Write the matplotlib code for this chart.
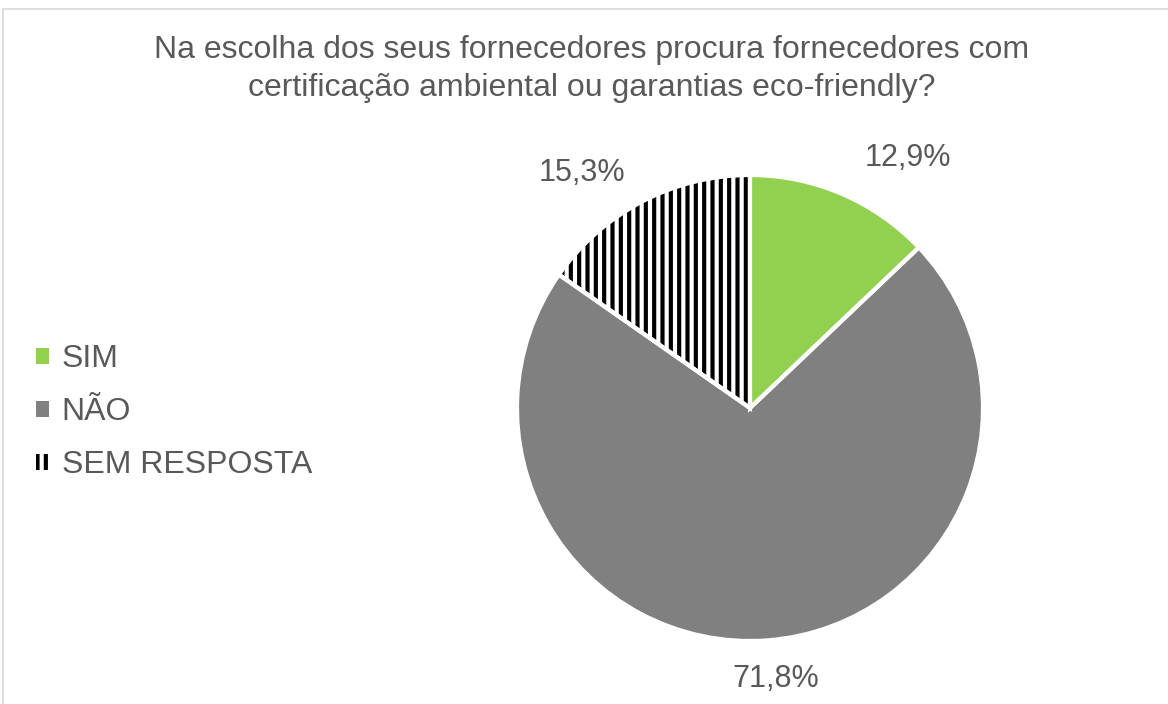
import numpy as np
import matplotlib.pyplot as plt
from matplotlib.patches import Rectangle, Patch

plt.rcParams['font.family'] = ['Liberation Sans', 'DejaVu Sans']
plt.rcParams['hatch.linewidth'] = 3.0

title = 'Na escolha dos seus fornecedores procura fornecedores com\ncertificação ambiental ou garantias eco-friendly?'
categories = ['SIM', 'NÃO', 'SEM RESPOSTA']
values = [12.9, 71.8, 15.3]
labels = ['12,9%', '71,8%', '15,3%']
colors = ['#92d050', '#808080', 'white']
hatches = [None, None, '||']

W, H = 1168, 704
fig = plt.figure(figsize=(W / 100, H / 100), dpi=100)
txt = '#595959'

# outer chart border (runs off the right and bottom edges)
fig.patches.append(Rectangle((3 / W, -0.1), 1.2, (H - 9) / H + 0.1,
                             transform=fig.transFigure, fill=False,
                             edgecolor='#d9d9d9', linewidth=1.2))

line1, line2 = title.split('\n')
fig.text(592 / W, 1 - 50 / H, line1, ha='center', va='center', fontsize=23, color=txt)
fig.text(592 / W, 1 - 88 / H, line2, ha='center', va='center', fontsize=23, color=txt)

# pie axes: centre (750, 408), radius ~233 px
cx, cy, r = 750, 408, 233
ax = fig.add_axes([(cx - r) / W, (H - cy - r) / H, 2 * r / W, 2 * r / H])
wedges, _ = ax.pie(values, colors=colors, startangle=90, counterclock=False,
                   radius=1, wedgeprops=dict(edgecolor='black', linewidth=0))
for w, h in zip(wedges, hatches):
    if h:
        w.set_hatch(h)
# white separators on top
ax.pie(values, colors=['none'] * 3, startangle=90, counterclock=False,
       radius=1, wedgeprops=dict(edgecolor='white', linewidth=3, fill=False))
ax.set_xlim(-1, 1)
ax.set_ylim(-1, 1)
ax.set_aspect('equal')
ax.axis('off')

# data labels placed outside the slices
label_tweak = [(1.27, -9), (1.17, 1), (1.24, 8)]
for w, lab, (rd, dang) in zip(wedges, labels, label_tweak):
    ang = np.deg2rad((w.theta1 + w.theta2) / 2 + dang)
    ax.text(rd * np.cos(ang), rd * np.sin(ang), lab, ha='center', va='center',
            fontsize=22, color=txt, clip_on=False)

handles = [Patch(facecolor=c, edgecolor='black', linewidth=0, hatch=h)
           for c, h in zip(colors, hatches)]
leg = fig.legend(handles, categories, loc='center left', bbox_to_anchor=(20 / W, 1 - 412 / H),
                 frameon=False, fontsize=23, handlelength=0.4, handleheight=0.4,
                 handletextpad=0.4, labelspacing=0.72, labelcolor=txt, borderpad=0)

fig.savefig('out.png', dpi=100)
